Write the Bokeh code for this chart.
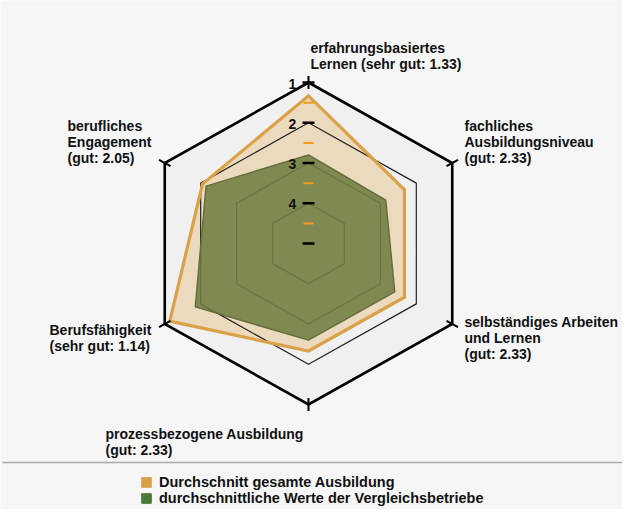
import math
from bokeh.plotting import figure
from bokeh.models import Range1d, Legend, LegendItem
from bokeh.core.properties import value
from bokeh.embed import file_html
from bokeh.resources import INLINE

# ---- data ----
categories = [
    ["erfahrungsbasiertes", "Lernen (sehr gut: 1.33)"],
    ["fachliches", "Ausbildungsniveau", "(gut: 2.33)"],
    ["selbständiges Arbeiten", "und Lernen", "(gut: 2.33)"],
    ["prozessbezogene Ausbildung", "(gut: 2.33)"],
    ["Berufsfähigkeit", "(sehr gut: 1.14)"],
    ["berufliches", "Engagement", "(gut: 2.05)"],
]
gesamt = [1.33, 2.33, 2.33, 2.33, 1.14, 2.05]
vergleich = [2.80, 2.85, 2.60, 2.60, 1.85, 2.15]
grid_values = [1, 2, 3, 4]
major_ticks = [1, 2, 3, 4, 5]
minor_ticks = [1.5, 2.5, 3.5, 4.5]
tick_labels = ["1", "2", "3", "4"]
series_names = ["Durchschnitt gesamte Ausbildung", "durchschnittliche Werte der Vergleichsbetriebe"]

# ---- geometry ----
W, H = 622, 509
CX, CY = 316, 251
RX, RY = 166.0, 161.0
ANGLES = [90, 30, -30, -90, -150, 150]
FONT = value("Liberation Sans")
NAN = float("nan")


def radius(v):
    return (5.0 - v) / 4.0


def pt(v, ang, extra=0.0):
    r = radius(v) + extra
    a = math.radians(ang)
    return CX + r * RX * math.cos(a), CY - r * RY * math.sin(a)


def poly(vals):
    xs, ys = [], []
    for v, a in zip(vals, ANGLES):
        x, y = pt(v, a)
        xs.append(x)
        ys.append(y)
    return xs, ys


p = figure(width=W, height=H, x_range=Range1d(8, 8 + W), y_range=Range1d(8 + H, 8),
           output_backend="svg", toolbar_location=None, min_border=0)
p.axis.visible = False
p.grid.visible = False
p.outline_line_color = None
p.background_fill_color = "#f6f6f6"
p.border_fill_color = "#f6f6f6"

# hexagon interior
ox, oy = poly([1] * 6)
p.patch(ox, oy, fill_color="#e8e8e8", fill_alpha=0.45, line_color=None)

# orange fill
gx, gy = poly(gesamt)
p.patch(gx, gy, fill_color="#e3aa55", fill_alpha=0.32, line_color=None)

# inner grid hexagons
for gv in grid_values[1:]:
    hx, hy = poly([gv] * 6)
    p.patch(hx + [hx[0]], hy + [hy[0]], fill_alpha=0,
            line_color="#222222" if gv == 2 else "#555555", line_width=1.2)

# green series
vx, vy = poly(vergleich)
p.patch(vx, vy, fill_color="#6e7a40", fill_alpha=0.85, line_color="#626f38", line_width=1.5)

# orange outline
p.patch(gx, gy, fill_alpha=0, line_color="#d9a24a", line_width=3.2, line_join="miter")

# outer hexagon
p.patch(ox, oy, fill_alpha=0, line_color="#000000", line_width=2.6, line_join="miter")

# vertex ticks (radial extensions)
x0s, y0s, x1s, y1s = [], [], [], []
for a in ANGLES:
    xa, ya = pt(1, a, -0.04)
    xb, yb = pt(1, a, 0.04)
    x0s.append(xa); y0s.append(ya); x1s.append(xb); y1s.append(yb)
p.segment(x0s, y0s, x1s, y1s, line_color="#000000", line_width=2)

# axis ticks on top axis
mt = [pt(v, 90) for v in major_ticks]
p.segment([t[0] - 6 for t in mt], [t[1] for t in mt], [t[0] + 6 for t in mt], [t[1] for t in mt],
          line_color="#000000", line_width=2.5)
nt = [pt(v, 90) for v in minor_ticks]
p.segment([t[0] - 5 for t in nt], [t[1] for t in nt], [t[0] + 5 for t in nt], [t[1] for t in nt],
          line_color="#f39a1e", line_width=2)
lt = [pt(v, 90) for v in major_ticks[:len(tick_labels)]]
p.text([t[0] - 16 for t in lt], [t[1] + 1 for t in lt], text=tick_labels,
       text_font=FONT, text_font_style="bold", text_font_size="14px",
       text_align="center", text_baseline="middle", text_color="#111111")

# category labels
label_anchor = [(318, 55), (472, 133), (472, 329), (113, 441), (57, 337), (75, 133)]
tx, ty, tt = [], [], []
for lines, (ax, ay) in zip(categories, label_anchor):
    for i, line in enumerate(lines):
        tx.append(ax); ty.append(ay + 16 * i); tt.append(line)
p.text(tx, ty, text=tt, text_font=FONT, text_font_style="bold", text_font_size="14px",
       text_align="left", text_baseline="middle", text_color="#111111")

# legend separator line
p.segment([10], [470], [630], [470], line_color="#aaaaaa", line_width=1.5)

# legend
r1 = p.rect(x=[NAN], y=[NAN], width=1, height=1, fill_color="#d9a045", line_color="#d9a045")
r2 = p.rect(x=[NAN], y=[NAN], width=1, height=1, fill_color="#4a7a3a", line_color="#4a7a3a")
legend = Legend(items=[LegendItem(label=series_names[0], renderers=[r1]),
                       LegendItem(label=series_names[1], renderers=[r2])],
                location=(140, 3), orientation="vertical",
                label_text_font="Liberation Sans", label_text_font_style="bold",
                label_text_font_size="14.5px", label_text_color="#111111",
                glyph_width=12, glyph_height=12, label_height=12, spacing=0,
                padding=0, margin=0, label_standoff=7,
                background_fill_alpha=0, border_line_alpha=0)
p.add_layout(legend)

open("out.html", "w").write(file_html(p, INLINE))
